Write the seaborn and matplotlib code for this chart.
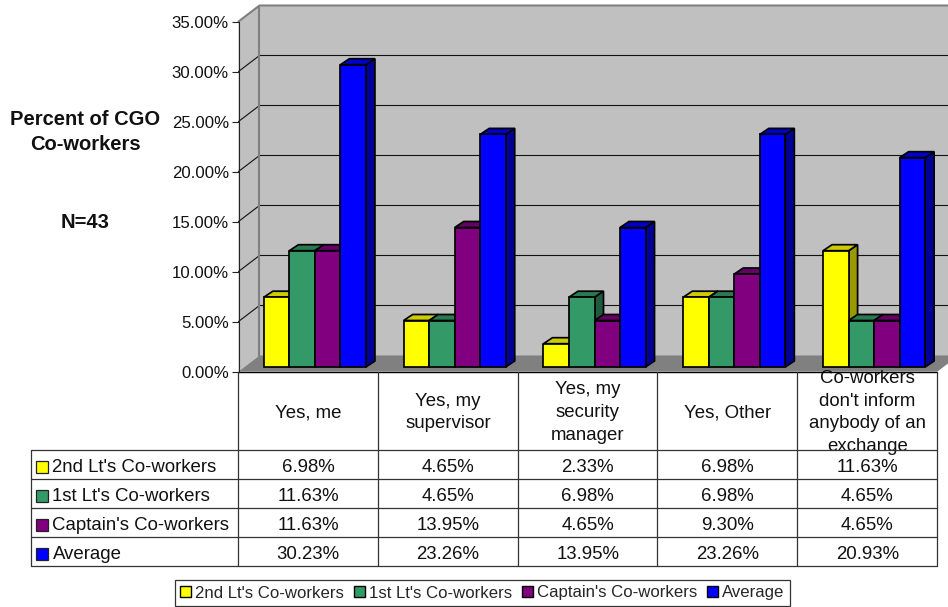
import pandas as pd
import matplotlib.pyplot as plt
import seaborn as sns
from matplotlib.patches import Polygon, Rectangle
from matplotlib.transforms import Affine2D, IdentityTransform

answers = ["Yes, me", "Yes, my\nsupervisor", "Yes, my\nsecurity\nmanager", "Yes, Other",
           "Co-workers\ndon't inform\nanybody of an\nexchange"]
series_names = ["2nd Lt's Co-workers", "1st Lt's Co-workers", "Captain's Co-workers", "Average"]
second_lt = [6.98, 4.65, 2.33, 6.98, 11.63]
first_lt = [11.63, 4.65, 6.98, 6.98, 4.65]
captain = [11.63, 13.95, 4.65, 9.30, 4.65]
average = [30.23, 23.26, 13.95, 23.26, 20.93]
y_ticks = [0, 5, 10, 15, 20, 25, 30, 35]
colors = ["#FFFF00", "#339966", "#800080", "#0000FF"]

sns.set_theme(style="white")
plt.rcParams['font.family'] = ['Liberation Sans', 'DejaVu Sans']
FS = 13.4
FS_TICK = 12.1
FS_LEG = 12.1
FS_BOLD = 14.5
EDGE = 1.25

W, H = 948, 607
fig = plt.figure(figsize=(W / 100, H / 100), dpi=100)

# pixel coordinates layer for walls, table and text
bg = fig.add_axes([0, 0, 1, 1], zorder=0)
bg.set_xlim(0, W)
bg.set_ylim(H, 0)
bg.axis('off')

x0, x1, y0, y1 = 238.5, 937.5, 371.5, 21.5
ddx, ddy = 21, 16
bg.add_patch(Polygon([(x0 + ddx, y1 - ddy), (x1 + ddx, y1 - ddy), (x1 + ddx, y0 - ddy), (x0 + ddx, y0 - ddy)],
                     fc="#C0C0C0", ec="none"))
bg.add_patch(Polygon([(x0, y1), (x0 + ddx, y1 - ddy), (x0 + ddx, y0 - ddy), (x0, y0)], fc="#C0C0C0", ec="none"))
bg.add_patch(Polygon([(x0, y0), (x0 + ddx, y0 - ddy), (x1 + ddx, y0 - ddy), (x1, y0)], fc="#808080", ec="none"))
px_per_pct = (y0 - y1) / 35
for t in y_ticks[1:-1]:
    yy = y0 - t * px_per_pct
    bg.plot([x0, x0 + ddx, W], [yy, yy - ddy, yy - ddy], color="#111111", lw=0.8)
bg.plot([x0, x0 + ddx, W], [y1, y1 - ddy, y1 - ddy], color="#808080", lw=1.5)
bg.plot([x0 + ddx, x0 + ddx], [y1 - ddy, y0 - ddy], color="#808080", lw=1.5)

# main axes, front plane of the 3d box
ax = fig.add_axes([x0 / W, 1 - y0 / H, (x1 - x0) / W, (y0 - y1) / H], zorder=1)
ax.patch.set_visible(False)

df = pd.DataFrame({"answer": answers * 4,
                   "series": [s for s in series_names for _ in answers],
                   "value": second_lt + first_lt + captain + average})
sns.barplot(data=df, x="answer", y="value", hue="series", hue_order=series_names, palette=colors,
            saturation=1, width=0.73, gap=0, edgecolor="black", linewidth=EDGE, zorder=3, ax=ax)
ax.set_xlim(-0.5, 4.5)
ax.set_ylim(0, 35)
ax.set_yticks(y_ticks)
ax.set_yticklabels([f"{t:.2f}%" for t in y_ticks], fontsize=FS_TICK, color="#111111")
ax.tick_params(axis='y', left=True, length=5, width=0.8, color="#222222", pad=2)
ax.set_xticks([])
ax.set_xlabel("")
ax.set_ylabel("")
for side in ['top', 'right', 'bottom']:
    ax.spines[side].set_visible(False)
ax.spines['left'].set_color("#222222")
ax.spines['left'].set_linewidth(0.8)

handles, labels = ax.get_legend_handles_labels()
ax.get_legend().remove()

# shift bars back from the front plane and add their top and side faces
fig.canvas.draw()
off_x, off_y, dep_x, dep_y = 6.5, 4.5, 9, 6
shift = ax.transData + Affine2D().translate(off_x, off_y)
bars = []
for cont, col in zip(ax.containers, colors):
    for p in cont.patches:
        bars.append((p, col))
bars.sort(key=lambda b: b[0].get_x())


def shade(col, k):
    r, g, b = plt.matplotlib.colors.to_rgb(col)
    return (r * k, g * k, b * k)


for p, col in bars:
    p.set_transform(shift)
    p.set_clip_on(False)
    (l, b), (r, t) = shift.transform([(p.get_x(), 0), (p.get_x() + p.get_width(), p.get_height())])
    side = Polygon([(r, b), (r + dep_x, b + dep_y), (r + dep_x, t + dep_y), (r, t)], fc=shade(col, 0.6), ec="black",
                   lw=EDGE, transform=IdentityTransform(), zorder=2, clip_on=False)
    top = Polygon([(l, t), (l + dep_x, t + dep_y), (r + dep_x, t + dep_y), (r, t)], fc=shade(col, 0.8), ec="black",
                  lw=EDGE, transform=IdentityTransform(), zorder=2, clip_on=False)
    ax.add_patch(side)
    ax.add_patch(top)

# data table under the plot
col_x = [238.5, 378, 518, 657.5, 797.5, 937.5]
row_y = [449.5, 479, 508, 537, 566]
line = "#333333"
bg.plot([31.5, 31.5], [row_y[0], row_y[-1]], color=line, lw=0.9)
for yy in row_y:
    bg.plot([31.5, x1], [yy, yy], color=line, lw=0.9)
bg.plot([x0, x1], [y0, y0], color="black", lw=1)
for xx in col_x:
    bg.plot([xx, xx], [y0, row_y[-1]], color=line, lw=0.9)

for i, name in enumerate(answers):
    cx = (col_x[i] + col_x[i + 1]) / 2
    txt = bg.text(cx, (y0 + row_y[0]) / 2 + 2, name, ha='center', va='center', fontsize=FS, linespacing=1.46,
                  color="#111111", zorder=1)
    clip = Rectangle((col_x[i], y0), col_x[i + 1] - col_x[i], row_y[0] - y0 + 1, transform=bg.transData)
    txt.set_clip_path(clip)

table_vals = [second_lt, first_lt, captain, average]
for r, (name, vals, col) in enumerate(zip(series_names, table_vals, colors)):
    cy = (row_y[r] + row_y[r + 1]) / 2
    bg.add_patch(Rectangle((36, cy - 3.25), 12, 12, fc=col, ec="#222222", lw=0.9))
    bg.text(52.5, cy + 3, name, ha='left', va='center', fontsize=FS, color="#111111")
    for i, v in enumerate(vals):
        bg.text((col_x[i] + col_x[i + 1]) / 2, cy + 3, f"{v:.2f}%", ha='center', va='center', fontsize=FS,
                color="#111111")

# axis caption on the left
bg.text(85, 132, "Percent of CGO\nCo-workers", ha='center', va='center', fontsize=FS_BOLD, fontweight='bold',
        linespacing=1.38, color="#111111")
bg.text(85, 222, "N=43", ha='center', va='center', fontsize=FS_BOLD, fontweight='bold', color="#111111")

leg = fig.legend(handles, labels, ncol=4, loc='center', bbox_to_anchor=(482.5 / W, 1 - 593 / H), fontsize=FS_LEG,
                 frameon=True, fancybox=False, edgecolor="#333333", framealpha=1, handlelength=0.65, handleheight=0.65,
                 handletextpad=0.24, columnspacing=0.59, borderpad=0.3, borderaxespad=0)
leg.get_frame().set_linewidth(0.9)
for h in leg.legend_handles:
    h.set_edgecolor("black")
    h.set_linewidth(1)

fig.savefig("out.png", dpi=100)
